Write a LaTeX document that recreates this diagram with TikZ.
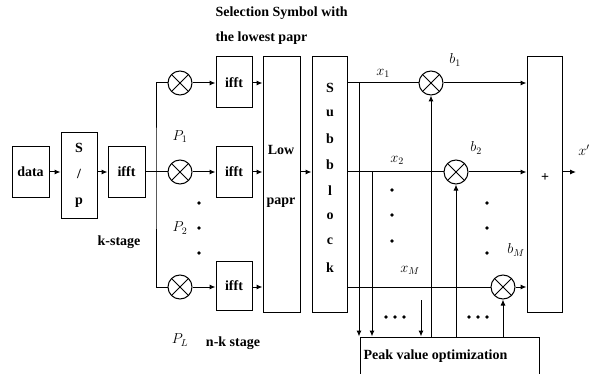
\documentclass[tikz,border=0pt]{standalone}
\usepackage{fontspec}
\setmainfont{Liberation Serif}
\usetikzlibrary{positioning,arrows.meta}

\newcommand{\diagfont}{\fontsize{14}{16}\selectfont\bfseries}
\newcommand{\mathfont}{\fontsize{14}{16}\selectfont}

\tikzset{
  blk/.style={draw, line width=1pt, inner sep=0pt, font=\diagfont},
  mult/.style={draw, circle, line width=1pt, minimum size=24pt, inner sep=0pt,
    path picture={\draw[line width=1pt]
      (path picture bounding box.north west) -- (path picture bounding box.south east)
      (path picture bounding box.north east) -- (path picture bounding box.south west);}},
  lbl/.style={inner sep=0pt, font=\diagfont},
  mlbl/.style={inner sep=0pt, font=\mathfont},
}

\begin{document}
\begin{tikzpicture}[x=1pt, y=-1pt, line width=1pt, >={Latex[length=6pt,width=5pt]}]
      \useasboundingbox (0,0) rectangle (599,374);
      \clip (0,0) rectangle (599,374);

      % Input side
      \node[blk, minimum width=37, minimum height=50] (data) at (30.5,172) {data};
      \node[blk, minimum width=36, minimum height=85, align=center,
            font=\fontsize{14}{26}\selectfont\bfseries] (sp) at (79,175.5) {S\\/\\p};
      \node[blk, minimum width=37, minimum height=50] (ifft0) at (126.5,172) {ifft};

      % Phase multipliers and ifft blocks
      \node[mult] (m1) at (180,83) {};
      \node[mult] (m2) at (180,172) {};
      \node[mult] (m3) at (180,287) {};
      \node[blk, minimum width=36, minimum height=51] (ifft1) at (234,82.5) {ifft};
      \node[blk, minimum width=36, minimum height=50] (ifft2) at (234,172) {ifft};
      \node[blk, minimum width=36, minimum height=49] (ifft3) at (234,285.5) {ifft};

      % Selection and subblock
      \node[blk, minimum width=37, minimum height=255] (low) at (281.5,184.5) {};
      \node[lbl] (lowa) at (281,150) {Low};
      \node[lbl] (lowb) at (281,203) {papr};
      \node[blk, minimum width=35, minimum height=255] (sub) at (329.5,184.5) {};
      \foreach \ch [count=\i] in {S,u,b,b,l,o,c,k}
        \node[lbl] (sb\i) at (330,{88+(\i-1)*25.6}) {\ch};

      % Output side
      \node[mult] (m4) at (431,83) {};
      \node[mult] (m5) at (456,172) {};
      \node[mult] (m6) at (503,287) {};
      \node[blk, minimum width=35, minimum height=255] (plus) at (544.5,184.5) {};
      \node[lbl] (plussign) at (545,178) {+};
      \node[blk, minimum width=179, minimum height=48] (peak) at (449.5,361) {};
      \node[lbl, anchor=west] (peaktxt) at (363,356) {Peak value optimization};

      % Input connections
      \coordinate (br) at (156,172);
      \draw[->] (data.east) -- (sp.west |- data.east);
      \draw[->] (sp.east |- ifft0.west) -- (ifft0.west);
      \draw (ifft0.east) -- (m2.west);
      \draw (m1.west) -| (br) |- (m3.west);
      \draw[->] (m1.east) -- (ifft1.west |- m1.east);
      \draw[->] (m2.east) -- (ifft2.west |- m2.east);
      \draw[->] (m3.east) -- (ifft3.west |- m3.east);
      \draw[->] (ifft1.east |- m1) -- (low.west |- m1);
      \draw[->] (ifft2.east |- m2) -- (low.west |- m2);
      \draw[->] (ifft3.east |- m3) -- (low.west |- m3);
      \draw[->] (low.east |- m2) -- (sub.west |- m2);

      % Output connections
      \draw (sub.east |- m4) -- (m4.west);
      \draw (sub.east |- m5) -- (m5.west);
      \draw (sub.east |- m6) -- (m6.west);
      \draw[->] (m4.east) -- (plus.west |- m4);
      \draw[->] (m5.east) -- (plus.west |- m5);
      \draw[->] (m6.east) -- (plus.west |- m6);
      \coordinate (xout) at (576,172);
      \draw[->] (plus.east |- xout) -- (xout);

      % Feedback to peak value optimization
      \coordinate (t1) at (359,83);
      \coordinate (t2) at (372,172);
      \coordinate (fb) at (421,300);
      \draw[->] (t1) -- (t1 |- peak.north);
      \draw[->] (t2) -- (t2 |- peak.north);
      \draw[->] (fb) -- (fb |- peak.north);
      \draw[->] (m4 |- peak.north) -- (m4.south);
      \draw[->] (m5 |- peak.north) -- (m5.south);
      \draw[->] (m6 |- peak.north) -- (m6.south);

      % Dots
      \foreach \y in {203,228,253} {
        \fill (199,\y) circle (1.8pt);
        \fill (487,\y) circle (1.8pt);
      }
      \foreach \y in {190,215,241} \fill (392,\y) circle (1.8pt);
      \foreach \x in {386,395,404} \fill (\x,317) circle (1.8pt);
      \foreach \x in {469,478,487} \fill (\x,317) circle (1.8pt);

      % Labels
      \node[mlbl] (lx1) at (383,73) {$x_1$};
      \node[mlbl] (lb1) at (455,60) {$b_1$};
      \node[mlbl] (lx2) at (397,160) {$x_2$};
      \node[mlbl] (lb2) at (476,148) {$b_2$};
      \node[mlbl] (lxm) at (410,270) {$x_M$};
      \node[mlbl] (lbm) at (516,250) {$b_M$};
      \node[mlbl] (lxo) at (584,150) {$x'$};
      \node[mlbl] (lp1) at (180,137) {$P_1$};
      \node[mlbl] (lp2) at (180,228) {$P_2$};
      \node[mlbl] (lpl) at (180,340) {$P_L$};
      \node[lbl] (kst) at (119,242) {k-stage};
      \node[lbl] (nkst) at (233,343) {n-k stage};
      \node[lbl, anchor=west] (ttl1) at (215,13) {Selection Symbol with};
      \node[lbl, anchor=west] (ttl2) at (215,38) {the lowest papr};

      \end{tikzpicture}
\end{document}
